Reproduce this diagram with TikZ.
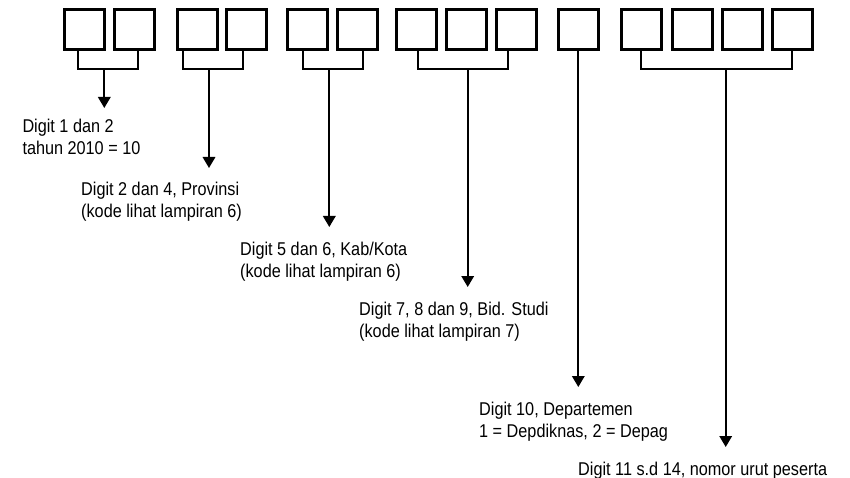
\documentclass[tikz,border=0pt]{standalone}
\usepackage{fontspec}
\setmainfont{Liberation Sans}
\usetikzlibrary{arrows.meta,calc}
\tikzset{
  digitbox/.style={draw=black,line width=3pt,minimum size=40pt,inner sep=0pt},
  conn/.style={draw=black,line width=1.8pt},
  arr/.style={conn,-{Triangle[width=12.5pt,length=11pt]}},
  lbl/.style={anchor=base west,inner sep=0pt,font=\fontsize{18.5}{22.3}\selectfont}
}
\newcommand{\lbltext}[1]{\scalebox{0.878}[1]{\begin{tabular}[t]{@{}l@{}}#1\end{tabular}}}
\begin{document}
\begin{tikzpicture}[x=1pt,y=-1pt]
\useasboundingbox (0,0) rectangle (850,478);
% boxes
\foreach \n/\cx in {1/84.5,2/134,3/197,4/246,5/307,6/357,7/416.7,8/466,9/516,10/578.3,11/641.7,12/692,13/742,14/792}
  \node[digitbox] (b\n) at (\cx,30) {};
% junctions
\coordinate (j1) at (104.3,69.3);
\coordinate (j2) at (209,69.3);
\coordinate (j3) at (329.3,69.3);
\coordinate (j4) at (467.7,69.3);
\coordinate (j6) at (725.7,69.3);
% arrow tips
\coordinate (a1) at (104.3,108);
\coordinate (a2) at (209,168);
\coordinate (a3) at (329.3,227);
\coordinate (a4) at (467.7,287);
\coordinate (a5) at (578.3,387);
\coordinate (a6) at (725.7,447);
% brackets
\draw[conn] ([xshift=-6.2pt]b1.south) |- (j1) -| ([xshift=3.7pt]b2.south);
\draw[conn] ([xshift=-13.7pt]b3.south) |- (j2) -| ([xshift=-2.7pt]b4.south);
\draw[conn] ([xshift=-4.3pt]b5.south) |- (j3) -| ([xshift=5.7pt]b6.south);
\draw[conn] ([xshift=1.6pt]b7.south) |- (j4) -| ([xshift=-8.3pt]b9.south);
\draw[conn] ([xshift=-1pt]b11.south) |- (j6) -| (b14.south);
% arrows
\draw[arr] (j1) -- (a1);
\draw[arr] (j2) -- (a2);
\draw[arr] (j3) -- (a3);
\draw[arr] (j4) -- (a4);
\draw[arr] (b10.south) -- (a5);
\draw[arr] (j6) -- (a6);
% labels
\node[lbl] (t1) at (22.3,132.7) {\lbltext{Digit 1 dan 2\\tahun 2010 = 10}};
\node[lbl] (t2) at (81,195.7) {\lbltext{Digit 2 dan 4, Provinsi\\(kode lihat lampiran 6)}};
\node[lbl] (t3) at (240,255.5) {\lbltext{Digit 5 dan 6, Kab/Kota\\(kode lihat lampiran 6)}};
\node[lbl] (t4) at (359,315.5) {\lbltext{Digit 7, 8 dan 9, Bid. Studi\\(kode lihat lampiran 7)}};
\node[lbl] (t5) at (479,415) {\lbltext{Digit 10, Departemen\\1 = Depdiknas, 2 = Depag}};
\node[lbl] (t6) at (578,475.5) {\lbltext{Digit 11 s.d 14, nomor urut peserta}};
\end{tikzpicture}
\end{document}
